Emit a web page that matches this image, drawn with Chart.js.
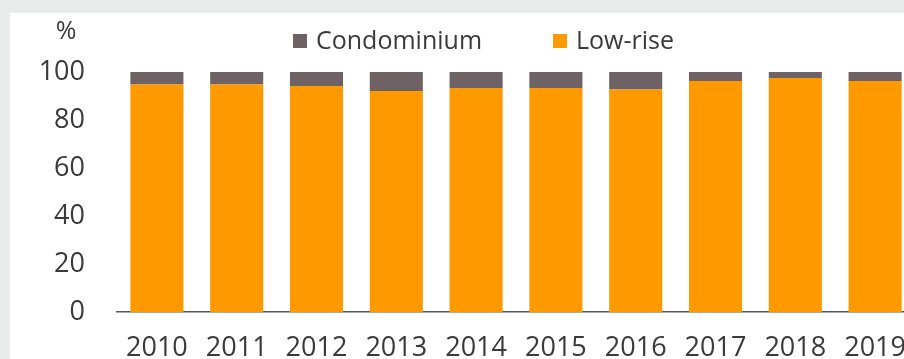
<!DOCTYPE html>
<html>
<head>
<meta charset="utf-8">
<script src="https://cdn.jsdelivr.net/npm/chart.js@4.4.1/dist/chart.umd.min.js"></script>
<style>
  html { margin: 0; padding: 0; width: 904px; height: 359px; overflow: hidden; background: #e9ebeb; }
  body { margin: 0; padding: 0; width: 930px; height: 359px; background: #e9ebeb; position: relative; }
  #panel { position: absolute; left: 10px; top: 13px; width: 920px; height: 360px; background: #ffffff; }
  #wrap { position: absolute; left: 0; top: 0; width: 915px; height: 359px; }
</style>
</head>
<body>
<div id="panel"></div>
<div id="wrap"><canvas id="chart" width="915" height="359"></canvas></div>
<script>
// ---- data ----
const YEARS       = ['2010','2011','2012','2013','2014','2015','2016','2017','2018','2019'];
const LOW_RISE    = [94.8, 94.8, 94.2, 92.1, 93.3, 93.3, 92.7, 96.2, 97.5, 96.2];
const CONDOMINIUM = [5.2, 5.2, 5.8, 7.9, 6.7, 6.7, 7.3, 3.8, 2.5, 3.8];
const Y_TICKS     = [0, 20, 40, 60, 80, 100];
const UNIT        = '%';

// ---- colours ----
const NARANJA = '#fe9900';
const GRIS    = '#6e6264';
const TEXTO   = '#3a3a3a';
const FONT    = "'Open Sans', 'Noto Sans', sans-serif";

// leyenda + unidad dibujadas a mano
const extras = {
  id: 'extras',
  afterDraw(chart) {
    const ctx = chart.ctx;
    ctx.save();
    ctx.font = '25px ' + FONT;
    ctx.fillStyle = TEXTO;
    ctx.textAlign = 'center';
    ctx.textBaseline = 'middle';
    ctx.fillText(UNIT, 66, 32);

    // Condominium primero, luego Low-rise
    const items = [
      { ds: chart.data.datasets[1], x: 293 },
      { ds: chart.data.datasets[0], x: 553 }
    ];
    ctx.font = '25px ' + FONT;
    ctx.textAlign = 'left';
    items.forEach(it => {
      ctx.fillStyle = it.ds.backgroundColor;
      ctx.fillRect(it.x, 34, 14, 14);
      ctx.fillStyle = TEXTO;
      ctx.fillText(it.ds.label, it.x + 23, 42);
    });
    ctx.restore();
  }
};

new Chart(document.getElementById('chart'), {
  type: 'bar',
  data: {
    labels: YEARS,
    datasets: [
      { label: 'Low-rise',    data: LOW_RISE,    backgroundColor: NARANJA },
      { label: 'Condominium', data: CONDOMINIUM, backgroundColor: GRIS }
    ]
  },
  options: {
    responsive: false,
    animation: false,
    layout: { padding: { top: 72, left: 0, right: 0, bottom: 0 } },
    datasets: { bar: { categoryPercentage: 1, barPercentage: 0.665 } },
    plugins: {
      legend:  { display: false },
      tooltip: { enabled: false }
    },
    scales: {
      x: {
        stacked: true,
        grid: { display: false },
        border: { display: true, color: '#595959', width: 1.5 },
        ticks: { color: TEXTO, font: { family: FONT, size: 27 }, padding: 12, maxRotation: 0, autoSkip: false },
        afterFit(scale) {
          scale.height = 47;
          scale.paddingLeft = 0;
          scale.paddingRight = 0;
        }
      },
      y: {
        stacked: true,
        min: 0,
        max: 100,
        grid: { display: false, drawTicks: false },
        border: { display: false },
        afterBuildTicks(scale) { scale.ticks = Y_TICKS.map(v => ({ value: v })); },
        ticks: { color: TEXTO, font: { family: FONT, size: 27 }, padding: 32 },
        afterFit(scale) {
          scale.width = 117;
          scale.paddingTop = 0;
          scale.paddingBottom = 0;
        }
      }
    }
  },
  plugins: [extras]
});
</script>
</body>
</html>
